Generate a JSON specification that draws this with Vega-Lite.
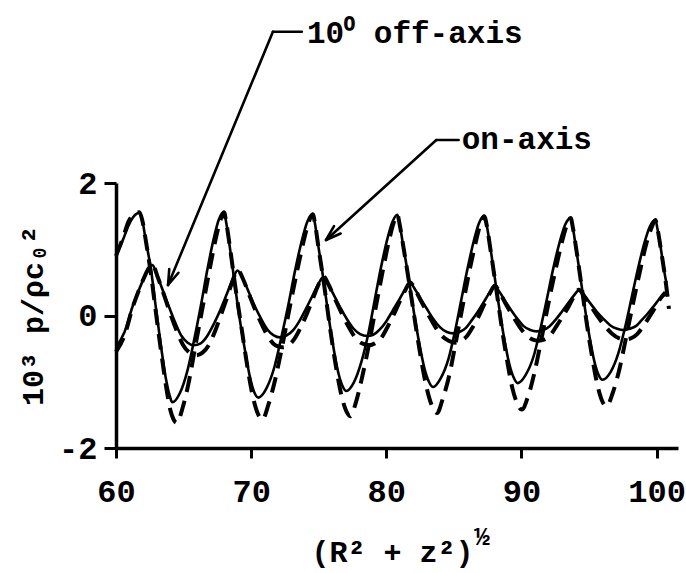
{
  "$schema": "https://vega.github.io/schema/vega-lite/v6.json",
  "width": 562,
  "height": 265,
  "autosize": {"type": "none"},
  "padding": {"left": 116, "top": 183, "right": 8, "bottom": 125},
  "background": "white",
  "config": {"view": {"stroke": null}, "font": "Liberation Mono"},
  "datasets": {
    "on_full": [
      {"r":60.0,"p":0.90},{"r":60.53,"p":1.15},{"r":60.93,"p":1.36},{"r":61.33,"p":1.50},{"r":61.73,"p":1.55},
      {"r":61.93,"p":1.45},{"r":62.23,"p":1.10},{"r":62.57,"p":0.72},{"r":62.93,"p":0.15},{"r":63.32,"p":-0.45},
      {"r":63.69,"p":-0.95},{"r":63.96,"p":-1.20},{"r":64.16,"p":-1.31},{"r":64.73,"p":-1.17},{"r":65.30,"p":-0.82},
      {"r":65.76,"p":-0.39},{"r":66.28,"p":0.15},{"r":66.74,"p":0.67},{"r":67.23,"p":1.16},{"r":67.61,"p":1.45},
      {"r":67.99,"p":1.56},{"r":68.14,"p":1.42},{"r":68.37,"p":1.11},{"r":68.74,"p":0.55},{"r":69.12,"p":-0.01},
      {"r":69.53,"p":-0.51},{"r":69.91,"p":-0.93},{"r":70.23,"p":-1.16},{"r":70.53,"p":-1.24},{"r":71.13,"p":-1.10},
      {"r":71.73,"p":-0.77},{"r":72.21,"p":-0.35},{"r":72.76,"p":0.17},{"r":73.24,"p":0.67},{"r":73.76,"p":1.14},
      {"r":74.16,"p":1.42},{"r":74.56,"p":1.53},{"r":74.71,"p":1.40},{"r":74.93,"p":1.10},{"r":75.33,"p":0.57},
      {"r":75.69,"p":0.04},{"r":76.06,"p":-0.45},{"r":76.43,"p":-0.85},{"r":76.75,"p":-1.06},{"r":77.04,"p":-1.14},
      {"r":77.60,"p":-1.01},{"r":78.17,"p":-0.69},{"r":78.65,"p":-0.29},{"r":79.13,"p":0.22},{"r":79.58,"p":0.70},
      {"r":80.07,"p":1.15},{"r":80.45,"p":1.41},{"r":80.82,"p":1.52},{"r":80.98,"p":1.39},{"r":81.21,"p":1.10},
      {"r":81.64,"p":0.58},{"r":82.03,"p":0.06},{"r":82.42,"p":-0.40},{"r":82.81,"p":-0.79},{"r":83.15,"p":-1.00},
      {"r":83.46,"p":-1.08},{"r":84.02,"p":-0.95},{"r":84.62,"p":-0.64},{"r":85.07,"p":-0.25},{"r":85.55,"p":0.24},
      {"r":86.00,"p":0.70},{"r":86.49,"p":1.14},{"r":86.87,"p":1.40},{"r":87.24,"p":1.50},{"r":87.42,"p":1.37},
      {"r":87.64,"p":1.10},{"r":88.01,"p":0.59},{"r":88.37,"p":0.09},{"r":88.74,"p":-0.37},{"r":89.11,"p":-0.74},
      {"r":89.43,"p":-0.94},{"r":89.72,"p":-1.02},{"r":90.30,"p":-0.90},{"r":90.92,"p":-0.60},{"r":91.38,"p":-0.22},
      {"r":91.88,"p":0.25},{"r":92.34,"p":0.70},{"r":92.84,"p":1.12},{"r":93.23,"p":1.37},{"r":93.64,"p":1.47},
      {"r":93.78,"p":1.35},{"r":93.99,"p":1.08},{"r":94.35,"p":0.59},{"r":94.70,"p":0.10},{"r":95.05,"p":-0.34},
      {"r":95.40,"p":-0.70},{"r":95.71,"p":-0.90},{"r":95.99,"p":-0.97},{"r":96.60,"p":-0.85},{"r":97.18,"p":-0.56},
      {"r":97.64,"p":-0.20},{"r":98.14,"p":0.26},{"r":98.60,"p":0.69},{"r":99.10,"p":1.10},{"r":99.49,"p":1.34},
      {"r":99.91,"p":1.44},{"r":100.05,"p":1.32},{"r":100.27,"p":1.06},{"r":100.63,"p":0.59},{"r":100.71,"p":0.50}
    ],
    "on_approx": [
      {"r":60.0,"p":0.90},{"r":60.53,"p":1.18},{"r":60.93,"p":1.42},{"r":61.33,"p":1.53},{"r":61.73,"p":1.56},
      {"r":61.93,"p":1.45},{"r":62.23,"p":1.10},{"r":62.57,"p":0.65},{"r":62.93,"p":0.08},{"r":63.32,"p":-0.52},
      {"r":63.69,"p":-1.05},{"r":64.01,"p":-1.42},{"r":64.26,"p":-1.57},{"r":64.51,"p":-1.62},{"r":64.92,"p":-1.40},
      {"r":65.37,"p":-1.02},{"r":65.89,"p":-0.44},{"r":66.44,"p":0.16},{"r":66.96,"p":0.73},{"r":67.37,"p":1.15},
      {"r":67.71,"p":1.43},{"r":67.99,"p":1.56},{"r":68.16,"p":1.40},{"r":68.41,"p":1.06},{"r":68.83,"p":0.43},
      {"r":69.29,"p":-0.19},{"r":69.71,"p":-0.76},{"r":70.13,"p":-1.23},{"r":70.49,"p":-1.48},{"r":70.83,"p":-1.57},
      {"r":71.27,"p":-1.35},{"r":71.76,"p":-0.98},{"r":72.34,"p":-0.42},{"r":72.90,"p":0.17},{"r":73.45,"p":0.72},
      {"r":73.89,"p":1.13},{"r":74.26,"p":1.41},{"r":74.56,"p":1.53},{"r":74.73,"p":1.38},{"r":74.97,"p":1.04},
      {"r":75.42,"p":0.43},{"r":75.83,"p":-0.18},{"r":76.24,"p":-0.73},{"r":76.65,"p":-1.18},{"r":77.01,"p":-1.43},
      {"r":77.34,"p":-1.52},{"r":77.75,"p":-1.31},{"r":78.20,"p":-0.94},{"r":78.75,"p":-0.40},{"r":79.27,"p":0.18},
      {"r":79.79,"p":0.73},{"r":80.20,"p":1.13},{"r":80.54,"p":1.40},{"r":80.82,"p":1.52},{"r":80.99,"p":1.37},
      {"r":81.26,"p":1.04},{"r":81.73,"p":0.44},{"r":82.17,"p":-0.15},{"r":82.60,"p":-0.69},{"r":83.04,"p":-1.14},
      {"r":83.41,"p":-1.38},{"r":83.76,"p":-1.47},{"r":84.17,"p":-1.26},{"r":84.65,"p":-0.91},{"r":85.17,"p":-0.37},
      {"r":85.69,"p":0.19},{"r":86.21,"p":0.73},{"r":86.62,"p":1.11},{"r":86.96,"p":1.38},{"r":87.24,"p":1.50},
      {"r":87.44,"p":1.35},{"r":87.68,"p":1.03},{"r":88.10,"p":0.45},{"r":88.51,"p":-0.14},{"r":88.92,"p":-0.66},
      {"r":89.33,"p":-1.10},{"r":89.69,"p":-1.33},{"r":90.02,"p":-1.42},{"r":90.49,"p":-1.22},{"r":90.95,"p":-0.87},
      {"r":91.48,"p":-0.35},{"r":92.01,"p":0.20},{"r":92.55,"p":0.72},{"r":92.97,"p":1.09},{"r":93.33,"p":1.35},
      {"r":93.64,"p":1.47},{"r":93.80,"p":1.33},{"r":94.04,"p":1.02},{"r":94.44,"p":0.45},{"r":94.83,"p":-0.12},
      {"r":95.23,"p":-0.63},{"r":95.63,"p":-1.06},{"r":95.97,"p":-1.29},{"r":96.29,"p":-1.37},{"r":96.75,"p":-1.17},
      {"r":97.21,"p":-0.84},{"r":97.74,"p":-0.33},{"r":98.27,"p":0.20},{"r":98.81,"p":0.71},{"r":99.23,"p":1.08},
      {"r":99.63,"p":1.33},{"r":99.91,"p":1.44},{"r":100.07,"p":1.30},{"r":100.32,"p":0.99},{"r":100.72,"p":0.43},
      {"r":100.91,"p":0.10}
    ],
    "off_full": [
      {"r":60.0,"p":-0.48},{"r":60.63,"p":-0.25},{"r":61.23,"p":0.14},{"r":61.93,"p":0.50},{"r":62.33,"p":0.68},
      {"r":62.69,"p":0.76},{"r":63.05,"p":0.60},{"r":63.48,"p":0.37},{"r":63.94,"p":0.12},{"r":64.39,"p":-0.11},
      {"r":64.85,"p":-0.31},{"r":65.30,"p":-0.41},{"r":65.76,"p":-0.45},{"r":66.27,"p":-0.42},{"r":66.75,"p":-0.31},
      {"r":67.23,"p":-0.13},{"r":67.71,"p":0.08},{"r":68.19,"p":0.32},{"r":68.61,"p":0.53},{"r":68.99,"p":0.68},
      {"r":69.40,"p":0.55},{"r":69.81,"p":0.36},{"r":70.27,"p":0.14},{"r":70.74,"p":-0.05},{"r":71.20,"p":-0.21},
      {"r":71.67,"p":-0.30},{"r":72.13,"p":-0.33},{"r":72.63,"p":-0.30},{"r":73.11,"p":-0.22},{"r":73.58,"p":-0.08},
      {"r":74.05,"p":0.10},{"r":74.52,"p":0.29},{"r":74.93,"p":0.46},{"r":75.34,"p":0.58},{"r":75.72,"p":0.46},
      {"r":76.14,"p":0.30},{"r":76.62,"p":0.11},{"r":77.10,"p":-0.06},{"r":77.58,"p":-0.20},{"r":78.06,"p":-0.28},
      {"r":78.57,"p":-0.31},{"r":79.04,"p":-0.29},{"r":79.52,"p":-0.21},{"r":79.99,"p":-0.09},{"r":80.46,"p":0.07},
      {"r":80.93,"p":0.23},{"r":81.38,"p":0.39},{"r":81.76,"p":0.49},{"r":82.14,"p":0.39},{"r":82.55,"p":0.25},
      {"r":83.03,"p":0.09},{"r":83.50,"p":-0.06},{"r":83.98,"p":-0.18},{"r":84.48,"p":-0.25},{"r":84.96,"p":-0.27},
      {"r":85.41,"p":-0.25},{"r":85.87,"p":-0.19},{"r":86.33,"p":-0.07},{"r":86.78,"p":0.06},{"r":87.23,"p":0.21},
      {"r":87.66,"p":0.35},{"r":88.02,"p":0.44},{"r":88.39,"p":0.35},{"r":88.79,"p":0.22},{"r":89.24,"p":0.08},
      {"r":89.70,"p":-0.05},{"r":90.16,"p":-0.16},{"r":90.66,"p":-0.22},{"r":91.12,"p":-0.24},{"r":91.58,"p":-0.22},
      {"r":92.04,"p":-0.17},{"r":92.50,"p":-0.07},{"r":92.96,"p":0.05},{"r":93.43,"p":0.18},{"r":93.87,"p":0.30},
      {"r":94.24,"p":0.38},{"r":94.64,"p":0.30},{"r":95.07,"p":0.19},{"r":95.56,"p":0.06},{"r":96.06,"p":-0.05},
      {"r":96.58,"p":-0.15},{"r":97.08,"p":-0.20},{"r":97.57,"p":-0.22},{"r":98.01,"p":-0.20},{"r":98.46,"p":-0.16},
      {"r":98.89,"p":-0.07},{"r":99.34,"p":0.03},{"r":99.82,"p":0.15},{"r":100.21,"p":0.25},{"r":100.65,"p":0.32}
    ],
    "off_approx": [
      {"r":60.0,"p":-0.55},{"r":60.63,"p":-0.30},{"r":61.23,"p":0.12},{"r":61.93,"p":0.50},{"r":62.33,"p":0.68},
      {"r":62.69,"p":0.77},{"r":63.07,"p":0.59},{"r":63.52,"p":0.33},{"r":64.00,"p":0.04},{"r":64.47,"p":-0.22},
      {"r":64.95,"p":-0.44},{"r":65.43,"p":-0.56},{"r":65.91,"p":-0.60},{"r":66.40,"p":-0.56},{"r":66.86,"p":-0.45},
      {"r":67.32,"p":-0.24},{"r":67.77,"p":0.01},{"r":68.23,"p":0.28},{"r":68.62,"p":0.52},{"r":68.99,"p":0.69},
      {"r":69.42,"p":0.54},{"r":69.84,"p":0.32},{"r":70.33,"p":0.07},{"r":70.82,"p":-0.15},{"r":71.31,"p":-0.34},
      {"r":71.79,"p":-0.45},{"r":72.31,"p":-0.48},{"r":72.76,"p":-0.45},{"r":73.21,"p":-0.35},{"r":73.66,"p":-0.18},
      {"r":74.11,"p":0.02},{"r":74.56,"p":0.25},{"r":74.95,"p":0.45},{"r":75.34,"p":0.59},{"r":75.74,"p":0.46},
      {"r":76.18,"p":0.26},{"r":76.68,"p":0.04},{"r":77.18,"p":-0.16},{"r":77.69,"p":-0.33},{"r":78.19,"p":-0.42},
      {"r":78.72,"p":-0.45},{"r":79.17,"p":-0.42},{"r":79.62,"p":-0.34},{"r":80.07,"p":-0.18},{"r":80.52,"p":0.00},
      {"r":80.97,"p":0.20},{"r":81.40,"p":0.38},{"r":81.76,"p":0.50},{"r":82.16,"p":0.38},{"r":82.59,"p":0.21},
      {"r":83.09,"p":0.02},{"r":83.59,"p":-0.16},{"r":84.08,"p":-0.30},{"r":84.61,"p":-0.38},{"r":85.11,"p":-0.41},
      {"r":85.54,"p":-0.38},{"r":85.97,"p":-0.31},{"r":86.41,"p":-0.17},{"r":86.84,"p":-0.01},{"r":87.27,"p":0.18},
      {"r":87.67,"p":0.34},{"r":88.02,"p":0.45},{"r":88.41,"p":0.34},{"r":88.82,"p":0.18},{"r":89.30,"p":0.01},
      {"r":89.79,"p":-0.15},{"r":90.27,"p":-0.28},{"r":90.79,"p":-0.36},{"r":91.27,"p":-0.38},{"r":91.71,"p":-0.36},
      {"r":92.16,"p":-0.29},{"r":92.59,"p":-0.16},{"r":93.03,"p":-0.02},{"r":93.50,"p":0.14},{"r":93.89,"p":0.29},
      {"r":94.24,"p":0.39},{"r":94.65,"p":0.29},{"r":95.10,"p":0.15},{"r":95.62,"p":-0.01},{"r":96.14,"p":-0.15},
      {"r":96.68,"p":-0.27},{"r":97.20,"p":-0.34},{"r":97.72,"p":-0.36},{"r":98.14,"p":-0.34},{"r":98.56,"p":-0.28},
      {"r":98.98,"p":-0.17},{"r":99.40,"p":-0.04},{"r":99.86,"p":0.11},{"r":100.22,"p":0.24},{"r":100.65,"p":0.35}
    ],
    "leaders": [
      {"r":71.61,"p":4.282,"r2":73.75,"p2":4.282},
      {"r":71.61,"p":4.282,"r2":63.85,"p2":0.460},
      {"r":63.85,"p":0.460,"r2":64.62,"p2":0.645},
      {"r":63.85,"p":0.460,"r2":63.94,"p2":0.701},
      {"r":83.70,"p":2.648,"r2":85.35,"p2":2.648},
      {"r":83.70,"p":2.648,"r2":75.54,"p2":1.140},
      {"r":75.54,"p":1.140,"r2":76.62,"p2":1.238},
      {"r":75.54,"p":1.140,"r2":76.13,"p2":1.349}
    ],
    "labels": [
      {"r":74.13,"p":4.113,"label":"10⁰ off-axis"},
      {"r":85.58,"p":2.506,"label":"on-axis"}
    ],
    "exponent": [
      {"r":87.08,"p":-3.343,"label":"½"}
    ]
  },
  "encoding": {
    "x": {
      "field": "r", "type": "quantitative",
      "scale": {"domain": [60, 101.58], "nice": false, "zero": false},
      "axis": {
        "values": [60, 70, 80, 90, 100], "title": "(R² + z²)", "grid": false,
        "domainColor": "black", "domainWidth": 3.5, "tickColor": "black", "tickWidth": 3, "tickSize": 10,
        "labelFont": "Liberation Mono", "labelFontSize": 32, "labelFontWeight": "bold", "labelColor": "black",
        "labelPadding": 18, "labelFlush": false, "labelOverlap": false,
        "titleFont": "Liberation Mono", "titleFontSize": 30, "titleFontWeight": "bold", "titleColor": "black",
        "titlePadding": 30, "titleX": 276
      }
    },
    "y": {
      "field": "p", "type": "quantitative",
      "scale": {"domain": [-2, 2], "nice": false, "zero": false},
      "axis": {
        "values": [-2, 0, 2], "title": "10³ p/ρc₀²", "grid": false,
        "labelExpr": "datum.value < 0 ? '-' + abs(datum.value) : datum.label",
        "domainColor": "black", "domainWidth": 3.5, "tickColor": "black", "tickWidth": 3, "tickSize": 12,
        "labelFont": "Liberation Mono", "labelFontSize": 32, "labelFontWeight": "bold", "labelColor": "black",
        "labelPadding": 7, "labelFlush": false, "labelOverlap": false,
        "titleFont": "Liberation Mono", "titleFontSize": 30, "titleFontWeight": "bold", "titleColor": "black",
        "titlePadding": 10
      }
    }
  },
  "layer": [
    {"data": {"name": "on_full"}, "mark": {"type": "line", "interpolate": "monotone", "stroke": "black", "strokeWidth": 2.6, "clip": false}},
    {"data": {"name": "off_full"}, "mark": {"type": "line", "interpolate": "monotone", "stroke": "black", "strokeWidth": 2.6, "clip": false}},
    {"data": {"name": "on_approx"}, "mark": {"type": "line", "interpolate": "monotone", "stroke": "black", "strokeWidth": 4, "strokeDash": [16, 9], "clip": false}},
    {"data": {"name": "off_approx"}, "mark": {"type": "line", "interpolate": "monotone", "stroke": "black", "strokeWidth": 4, "strokeDash": [16, 9], "clip": false}},
    {"data": {"name": "leaders"}, "mark": {"type": "rule", "stroke": "black", "strokeWidth": 2.6, "strokeCap": "round"},
     "encoding": {"x2": {"field": "r2"}, "y2": {"field": "p2"}}},
    {"data": {"name": "labels"}, "mark": {"type": "text", "align": "left", "baseline": "alphabetic", "font": "Liberation Mono", "fontSize": 31, "fontWeight": "bold", "color": "black"},
     "encoding": {"text": {"field": "label"}}},
    {"data": {"name": "exponent"}, "mark": {"type": "text", "align": "center", "baseline": "middle", "font": "Liberation Mono", "fontSize": 26, "fontWeight": "bold", "color": "black"},
     "encoding": {"text": {"field": "label"}}}
  ]
}
